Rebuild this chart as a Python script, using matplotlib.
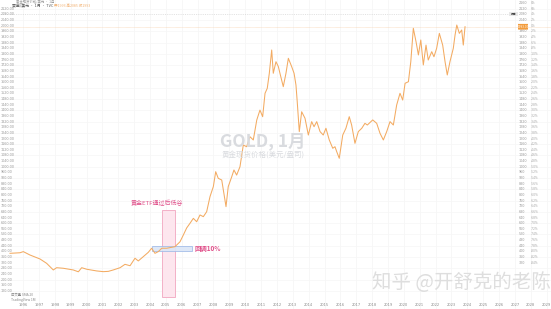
import matplotlib
matplotlib.use("Agg")
import matplotlib.pyplot as plt
from matplotlib.patches import Rectangle, FancyBboxPatch
import matplotlib.transforms as mtransforms

plt.rcParams['font.family'] = ['Noto Sans CJK SC', 'DejaVu Sans']

# ---- data: monthly-ish gold close (USD/oz) ----
years = [1995.17, 1995.80, 1996.01, 1996.43, 1997.06, 1997.48, 1997.90, 1998.11, 1998.53, 1999.16,
         1999.48, 1999.69, 2000.01, 2000.64, 2001.05, 2001.37, 2001.68, 2002.11, 2002.42, 2002.74,
         2003.05, 2003.26, 2003.57, 2003.89, 2004.10, 2004.31, 2004.52, 2004.74, 2005.05, 2005.57,
         2005.89, 2006.10, 2006.31, 2006.52, 2006.73, 2006.94, 2007.15, 2007.36, 2007.57, 2007.78,
         2007.99, 2008.14, 2008.30, 2008.52, 2008.62, 2008.79, 2008.93, 2009.15, 2009.29, 2009.46,
         2009.67, 2009.88, 2010.09, 2010.30, 2010.51, 2010.73, 2010.93, 2011.10, 2011.25, 2011.39,
         2011.52, 2011.67, 2011.77, 2011.94, 2012.09, 2012.19, 2012.40, 2012.57, 2012.72, 2012.93,
         2013.08, 2013.20, 2013.28, 2013.41, 2013.56, 2013.77, 2013.98, 2014.19, 2014.34, 2014.51,
         2014.72, 2014.92, 2015.09, 2015.30, 2015.52, 2015.66, 2015.77, 2015.93, 2016.15, 2016.35,
         2016.56, 2016.71, 2016.92, 2017.13, 2017.35, 2017.55, 2017.70, 2018.04, 2018.29, 2018.50,
         2018.71, 2018.92, 2019.13, 2019.34, 2019.55, 2019.76, 2019.93, 2020.08, 2020.29, 2020.44,
         2020.60, 2020.77, 2020.92, 2021.07, 2021.23, 2021.40, 2021.54, 2021.76, 2021.90, 2022.07,
         2022.24, 2022.45, 2022.60, 2022.74, 2022.91, 2023.12, 2023.23, 2023.34, 2023.50, 2023.65,
         2023.75, 2023.86]
prices = [386, 390, 398, 374, 346, 315, 268, 284, 280, 268,
          255, 284, 273, 261, 256, 258, 268, 284, 308, 298,
          351, 332, 362, 393, 422, 386, 398, 422, 422, 433,
          468, 516, 566, 599, 634, 610, 658, 646, 681, 788,
          859, 965, 918, 906, 835, 717, 859, 929, 977, 941,
          1000, 1154, 1142, 1213, 1190, 1332, 1402, 1355, 1521, 1556,
          1663, 1828, 1663, 1745, 1710, 1663, 1568, 1663, 1769, 1710,
          1663, 1580, 1461, 1249, 1390, 1344, 1225, 1320, 1284, 1320,
          1249, 1225, 1273, 1190, 1131, 1142, 1107, 1060, 1225, 1273,
          1355, 1296, 1166, 1249, 1273, 1308, 1296, 1332, 1308, 1237,
          1190, 1249, 1320, 1296, 1438, 1521, 1473, 1592, 1603, 1745,
          1982, 1887, 1793, 1899, 1722, 1863, 1757, 1816, 1780, 1840,
          1946, 1863, 1745, 1651, 1745, 1840, 1934, 2005, 1946, 1970,
          1863, 1993]

etf_band = (2004.73, 2005.57)       # ETF approval window
etf_band_prices = (76, 693)
pullback_box_years = (2004.13, 2006.65)
pullback_box_prices = (402, 438)
last_price = 1993
high_mark = 2085

right_ticks = list(range(2160, 319, -40))
left_ticks = list(range(2120, 99, -40))
year_ticks = list(range(1996, 2030))

W, H = 551, 309
fig = plt.figure(figsize=(W / 100, H / 100), dpi=100)
ax = fig.add_axes([0, 0, 1, 1])
ax.set_xlim(1994.54, 2029.28)
ax.set_ylim(-8.9, 2182.6)
ax.axis('off')

# faint grid
for yv in year_ticks:
    ax.axvline(yv, color='#f4f4f4', lw=0.5, zorder=0)
for pv in left_ticks[::2]:
    ax.axhline(pv, color='#f6f6f6', lw=0.5, zorder=0)

# tick labels (right two columns, left column)
blend = mtransforms.blended_transform_factory(ax.transAxes, ax.transData)
for pv in right_ticks:
    if abs(pv - last_price) >= 25:
        ax.text(519 / W, pv, f"{pv}", transform=blend, fontsize=2.4, color='#9a9a9a',
                ha='left', va='center', family='DejaVu Sans')
    ax.text(531 / W, pv, f"{(pv - last_price) / last_price * 100:.0f}%", transform=blend,
            fontsize=2.2, color='#a8a8a8', ha='left', va='center', family='DejaVu Sans')
for pv in left_ticks:
    ax.text(1 / W, pv, f"{pv:.2f}", transform=blend, fontsize=2.4, color='#9a9a9a',
            ha='left', va='center', family='DejaVu Sans')

blendx = mtransforms.blended_transform_factory(ax.transData, ax.transAxes)
for yv in year_ticks:
    ax.text(yv, 1 - 305 / H, str(yv), transform=blendx, fontsize=2.6, color='#8a8a8a',
            ha='center', va='center', family='DejaVu Sans')

# ETF band and pullback box
ax.add_patch(Rectangle((etf_band[0], etf_band_prices[0]), etf_band[1] - etf_band[0],
                       etf_band_prices[1] - etf_band_prices[0],
                       facecolor='#fde6ee', edgecolor='#f2a6c0', lw=0.6, zorder=1))
ax.add_patch(Rectangle((pullback_box_years[0], pullback_box_prices[0]),
                       pullback_box_years[1] - pullback_box_years[0],
                       pullback_box_prices[1] - pullback_box_prices[0],
                       facecolor='#dbe6f7', edgecolor='#9db8e6', lw=0.6, zorder=1, alpha=0.9))

# last-price line and high mark
ax.axhline(last_price, color='#f6c79a', lw=0.4, ls=(0, (1, 1)), zorder=1)
ax.axhline(high_mark, xmax=509 / W, color='#cccccc', lw=0.4, ls=(0, (2, 2)), zorder=1)

# price line
ax.plot(years, prices, color='#f3ab62', lw=0.75, zorder=3)

# price tag
ax.add_patch(FancyBboxPatch((518 / W, last_price - 20), 10 / W, 40, transform=blend,
                            boxstyle='round,pad=0', facecolor='#f39c3c', edgecolor='none', zorder=4))
ax.text(523 / W, last_price, f"{last_price}.00", transform=blend, fontsize=2.0, color='white',
        ha='center', va='center', zorder=5, family='DejaVu Sans')
ax.add_patch(Rectangle((509 / W, high_mark - 15), 9 / W, 30, transform=blend,
                       facecolor='#e8e8e8', edgecolor='none', zorder=4))
ax.text(513.5 / W, high_mark, "最高", transform=blend, fontsize=2.0, color='#333333',
        ha='center', va='center', zorder=5)

# annotations
ax.text(2004.45, 743, "黄金ETF通过后低谷", fontsize=4.3, color='#e0508a', ha='center', va='center')
ax.text(2006.83, 417, "回调10%", fontsize=4.6, color='#e0508a', ha='left', va='center',
        fontweight='bold')

# watermarks
fig.text(263 / W, 1 - 141.5 / H, "GOLD, 1月", fontsize=12.5, color='#d9dbdf', ha='center',
         va='center', fontweight='bold', zorder=0)
fig.text(263 / W, 1 - 156 / H, "黄金现货价格(美元/盎司)", fontsize=5.4, color='#d9dbdf',
         ha='center', va='center', zorder=0)
fig.text(461 / W, 1 - 283 / H, "知乎 @开舒克的老陈", fontsize=14, color='#dedede',
         ha='center', va='center', zorder=6)

# header texts
fig.text(16 / W, 1 - 1.2 / H, "黄金现货价格/美元 · 1月", fontsize=2.4, color='#999999',
         ha='left', va='center')
fig.text(12 / W, 1 - 5.5 / H, "黄金/美元 · 1月 · TVC", fontsize=2.8, color='#555555',
         ha='left', va='center')
fig.text(54 / W, 1 - 5.5 / H, "开1993 高2085 收1993", fontsize=2.6, color='#f2b070',
         ha='left', va='center')
fig.text(11 / W, 1 - 295 / H, "成交量 SMA 20", fontsize=2.4, color='#888888', ha='left', va='center')
fig.text(11 / W, 1 - 300 / H, "TradingView 1M", fontsize=2.4, color='#888888', ha='left', va='center')

fig.savefig("out.png", dpi=100)
